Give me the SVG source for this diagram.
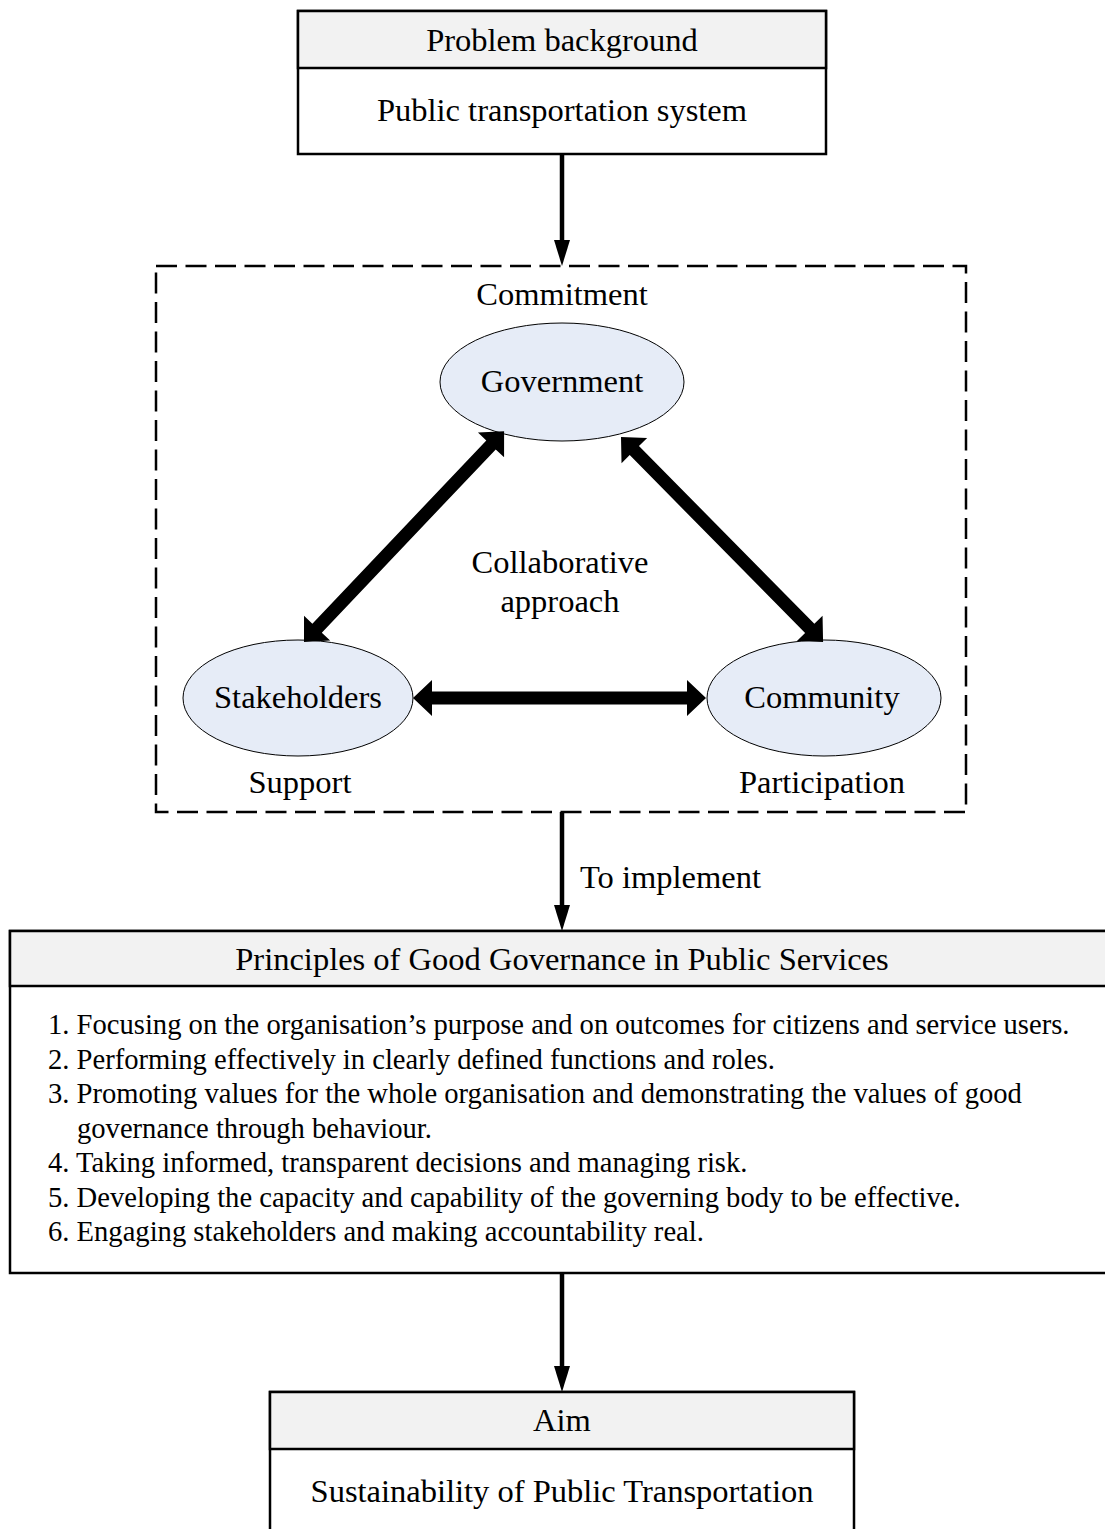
<svg xmlns="http://www.w3.org/2000/svg" width="1105" height="1529" viewBox="0 0 1105 1529">
<defs>
<style>
text{font-family:"Liberation Serif","Times New Roman",serif;fill:#000}
.lbl{font-size:32.5px;text-anchor:middle}
.lst{font-size:28.6px}
.box{fill:#fff;stroke:#000;stroke-width:2.5}
.hdr{fill:#f2f2f2;stroke:#000;stroke-width:2.5}
.ell{fill:#e6ecf7;stroke:#000;stroke-width:1}
.conn{stroke:#000;stroke-width:4.5;fill:none}
.dbl{fill:#000;stroke:none}
</style>
<marker id="ah" markerUnits="userSpaceOnUse" markerWidth="26" markerHeight="16" refX="14" refY="8" orient="auto">
<path d="M0,0 L26,8 L0,16 z" fill="#000"/>
</marker>
</defs>
<rect width="1105" height="1529" fill="#fff"/>

<g id="problem">
<rect class="box" x="298" y="11" width="528" height="143"/>
<rect class="hdr" x="298" y="11" width="528" height="57"/>
<text class="lbl" x="562" y="51">Problem background</text>
<text class="lbl" x="562" y="121">Public transportation system</text>
</g>

<g id="collab-frame">
<rect x="156" y="266" width="810" height="546" fill="none" stroke="#000" stroke-width="2.5" stroke-dasharray="21 8.5"/>
<text class="lbl" x="562" y="305">Commitment</text>
<text class="lbl" x="560" y="573">Collaborative</text>
<text class="lbl" x="560" y="612">approach</text>
<text class="lbl" x="300" y="793">Support</text>
<text class="lbl" x="822" y="793">Participation</text>
</g>

<g id="government">
<ellipse class="ell" cx="562" cy="382" rx="122" ry="59"/>
<text class="lbl" x="562" y="392">Government</text>
</g>
<g id="stakeholders">
<ellipse class="ell" cx="298" cy="698" rx="115" ry="58"/>
<text class="lbl" x="298" y="708">Stakeholders</text>
</g>
<g id="community">
<ellipse class="ell" cx="824" cy="698" rx="117" ry="58"/>
<text class="lbl" x="822" y="708">Community</text>
</g>

<g id="principles">
<rect class="box" x="10" y="931" width="1105" height="342"/>
<rect class="hdr" x="10" y="931" width="1105" height="55"/>
<text class="lbl" x="562" y="970">Principles of Good Governance in Public Services</text>
<text class="lst" x="48" y="1034">1. Focusing on the organisation’s purpose and on outcomes for citizens and service users.</text>
<text class="lst" x="48" y="1068.5">2. Performing effectively in clearly defined functions and roles.</text>
<text class="lst" x="48" y="1103">3. Promoting values for the whole organisation and demonstrating the values of good</text>
<text class="lst" x="77" y="1137.5">governance through behaviour.</text>
<text class="lst" x="48" y="1172">4. Taking informed, transparent decisions and managing risk.</text>
<text class="lst" x="48" y="1206.5">5. Developing the capacity and capability of the governing body to be effective.</text>
<text class="lst" x="48" y="1241">6. Engaging stakeholders and making accountability real.</text>
</g>

<g id="aim">
<rect class="box" x="270" y="1392" width="584" height="150"/>
<rect class="hdr" x="270" y="1392" width="584" height="57"/>
<text class="lbl" x="562" y="1431">Aim</text>
<text class="lbl" x="562" y="1502">Sustainability of Public Transportation</text>
</g>

<g id="connectors">
<line class="conn" x1="562" y1="154" x2="562" y2="254" marker-end="url(#ah)"/>
<line class="conn" x1="562" y1="812" x2="562" y2="919" marker-end="url(#ah)"/>
<text x="580" y="888" style="font-size:32.5px">To implement</text>
<line class="conn" x1="562" y1="1273" x2="562" y2="1380" marker-end="url(#ah)"/>
<path class="dbl" transform="translate(413,698)" d="M0,0 L19,-18 L19,-6.5 L274,-6.5 L274,-18 L293,0 L274,18 L274,6.5 L19,6.5 L19,18 Z"/>
<path class="dbl" transform="translate(304,642) rotate(-46.5)" d="M0,0 L19,-18 L19,-6.5 L271.7,-6.5 L271.7,-18 L290.7,0 L271.7,18 L271.7,6.5 L19,6.5 L19,18 Z"/>
<path class="dbl" transform="translate(621,437) rotate(45.4)" d="M0,0 L19,-18 L19,-6.5 L268.8,-6.5 L268.8,-18 L287.8,0 L268.8,18 L268.8,6.5 L19,6.5 L19,18 Z"/>
</g>
</svg>
